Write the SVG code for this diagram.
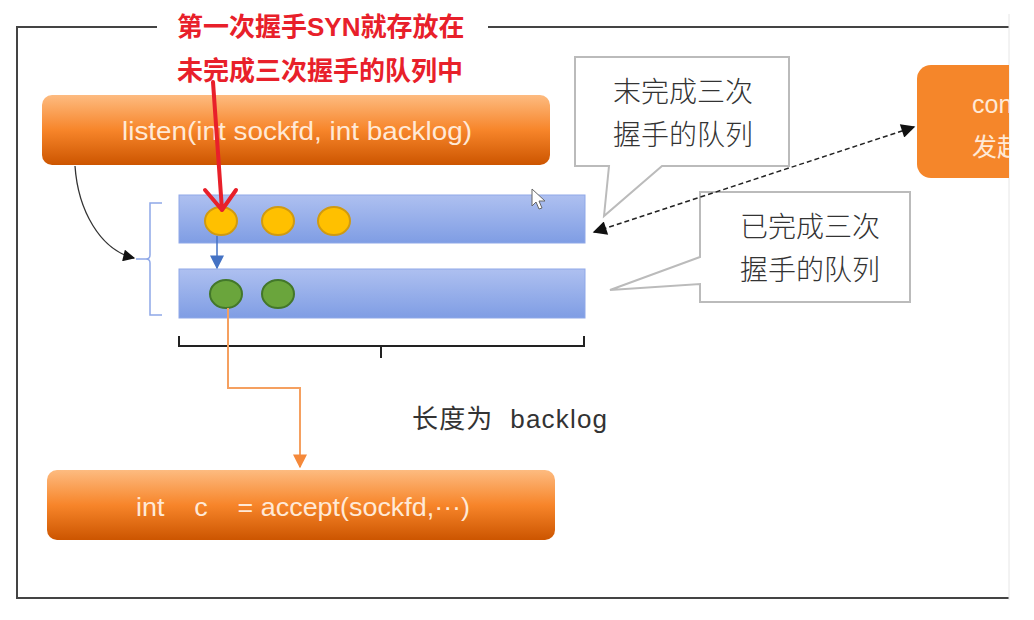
<svg xmlns="http://www.w3.org/2000/svg" width="1034" height="620" viewBox="0 0 1034 620">
<defs>
<linearGradient id="og" x1="0" y1="0" x2="0" y2="1">
<stop offset="0" stop-color="#FDBB80"/><stop offset="0.5" stop-color="#F7852A"/><stop offset="1" stop-color="#CC5500"/>
</linearGradient>
<linearGradient id="bg" x1="0" y1="0" x2="0" y2="1">
<stop offset="0" stop-color="#AEC0F0"/><stop offset="1" stop-color="#7F9DE4"/>
</linearGradient>
<marker id="ak" viewBox="0 0 10 10" refX="9" refY="5" markerWidth="14" markerHeight="12" markerUnits="userSpaceOnUse" orient="auto-start-reverse"><path d="M0,0 L10,5 L0,10 z" fill="#111"/></marker>
<marker id="ad" viewBox="0 0 10 10" refX="9" refY="5" markerWidth="18" markerHeight="14" markerUnits="userSpaceOnUse" orient="auto-start-reverse"><path d="M0,0 L10,5 L0,10 z" fill="#111"/></marker>
<marker id="ab" viewBox="0 0 10 10" refX="9" refY="5" markerWidth="14" markerHeight="14" markerUnits="userSpaceOnUse" orient="auto"><path d="M0,0 L10,5 L0,10 z" fill="#4472C4"/></marker>
<marker id="ao" viewBox="0 0 10 10" refX="9" refY="5" markerWidth="14" markerHeight="14" markerUnits="userSpaceOnUse" orient="auto"><path d="M0,0 L10,5 L0,10 z" fill="#F5893A"/></marker>
<clipPath id="clipR"><rect x="0" y="0" width="1009" height="620"/></clipPath>
</defs>
<style>
.frame{fill:none;stroke:#444;stroke-width:2}
.obox{fill:url(#og)}
.otxt{font-family:"Liberation Sans","Noto Sans CJK SC",sans-serif;font-size:25px;fill:#FFE9D6;text-anchor:middle}
.bar{fill:url(#bg);stroke:#8FA8E8;stroke-width:1}
.yel{fill:#FFC000;stroke:#D09A10;stroke-width:2}
.grn{fill:#6AA53C;stroke:#43772A;stroke-width:2}
.call{fill:#fff;stroke:#BBBBBB;stroke-width:2}
.ctxt{font-family:"Noto Sans CJK SC",sans-serif;font-size:28px;fill:#333;text-anchor:middle;font-weight:300}
.red{font-family:"Liberation Sans","Noto Sans CJK SC",sans-serif;font-size:26px;font-weight:bold;fill:#E8202A}
.lbl{font-family:"Liberation Sans","Noto Sans CJK SC",sans-serif;font-size:26px;fill:#333}
</style>
<rect width="1034" height="620" fill="#fff"/>
<g id="frame">
<path class="frame" d="M157,27 H17 V598 H1009"/>
<path class="frame" d="M488,27 H1009"/>
<line x1="1009" y1="14" x2="1009" y2="600" stroke="#E6E6E6" stroke-width="1"/>
</g>
<g id="listen">
<rect class="obox" x="42" y="95" width="508" height="70" rx="10"/>
<text class="otxt" x="122" y="140" style="text-anchor:start" textLength="350" lengthAdjust="spacingAndGlyphs">listen(int sockfd, int backlog)</text>
</g>
<g id="connect" clip-path="url(#clipR)">
<rect x="917" y="65" width="130" height="113" rx="14" fill="#F5862A"/>
<text class="otxt" x="972" y="113" style="text-anchor:start">con</text>
<text class="otxt" x="972" y="156" style="text-anchor:start;font-family:'Noto Sans CJK SC',sans-serif">发起</text>
</g>
<g id="accept">
<rect class="obox" x="47" y="470" width="508" height="70" rx="10"/>
<text class="otxt" x="136" y="516" style="text-anchor:start" xml:space="preserve" textLength="334" lengthAdjust="spacingAndGlyphs">int    c    = accept(sockfd,···)</text>
</g>
<g id="queue-syn">
<rect class="bar" x="179" y="195" width="406" height="48"/>
<ellipse class="yel" cx="221" cy="221" rx="16" ry="14"/>
<ellipse class="yel" cx="278" cy="221" rx="16" ry="14"/>
<ellipse class="yel" cx="334" cy="221" rx="16" ry="14"/>
</g>
<g id="queue-accept">
<rect class="bar" x="179" y="269" width="406" height="49"/>
<ellipse class="grn" cx="226" cy="294" rx="16" ry="14"/>
<ellipse class="grn" cx="278" cy="294" rx="16" ry="14"/>
</g>
<g id="callout-syn">
<path class="call" d="M575,57 H789 V166 H662 L604,216 L609,166 H575 Z"/>
<text class="ctxt" x="683" y="102">末完成三次</text>
<text class="ctxt" x="683" y="145">握手的队列</text>
</g>
<g id="callout-accept">
<path class="call" d="M700,192 H910 V302 H700 V284 L610,290 L700,257 Z"/>
<text class="ctxt" x="810" y="237">已完成三次</text>
<text class="ctxt" x="810" y="280">握手的队列</text>
</g>
<g id="label-len">
<text class="lbl" x="412" y="428" xml:space="preserve" textLength="195" lengthAdjust="spacing">长度为  backlog</text>
</g>
<g id="annotation">
<text class="red" x="177" y="36">第一次握手SYN就存放在</text>
<text class="red" x="177" y="80">未完成三次握手的队列中</text>
</g>
<g id="cursor">
<path d="M532,189 V206 L536,202 L539,209 L542,208 L539,201 L545,201 Z" fill="#fff" stroke="#666" stroke-width="1"/>
</g>
<g id="connectors">
<path d="M75,166 C78,210 100,250 134,258" fill="none" stroke="#333" stroke-width="1.3" marker-end="url(#ak)"/>
<path d="M162,203 H150 V255 Q150,259 146,259 H136 M146,259 Q150,259 150,263 V315 H162" fill="none" stroke="#8FA8E8" stroke-width="1.5"/>
<path d="M179,336 V346 H584 V336 M381,346 V358" fill="none" stroke="#222" stroke-width="2"/>
<line x1="217" y1="236" x2="217" y2="268" stroke="#4472C4" stroke-width="1.5" marker-end="url(#ab)"/>
<path d="M228,308 V388 H300 V467" fill="none" stroke="#F5A060" stroke-width="2" marker-end="url(#ao)"/>
<line x1="594" y1="232" x2="914" y2="127" stroke="#222" stroke-width="1.5" stroke-dasharray="5,3" marker-start="url(#ad)" marker-end="url(#ad)"/>
<path d="M213,82 L222,210 M205,190 L222,210 L236,190" fill="none" stroke="#E8202A" stroke-width="4" stroke-linecap="round" stroke-linejoin="round"/>
</g>
</svg>
